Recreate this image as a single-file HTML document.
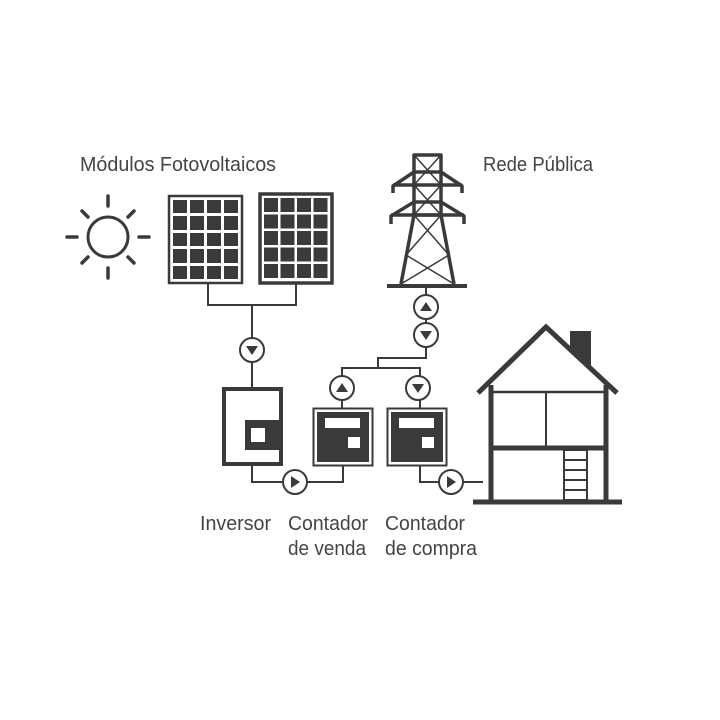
<!DOCTYPE html>
<html><head><meta charset="utf-8"><style>html,body{margin:0;padding:0;background:#fff}svg{display:block}</style></head><body>
<svg width="720" height="720" viewBox="0 0 720 720" xmlns="http://www.w3.org/2000/svg" font-family="'Liberation Sans Narrow','Liberation Sans',sans-serif" fill="#444">
<g stroke="#3a3a3a" fill="none">
<circle cx="108" cy="237" r="20" stroke-width="3"/>
<g stroke-width="3.5" stroke-linecap="round">
<line x1="108" y1="196" x2="108" y2="206"/><line x1="108" y1="268" x2="108" y2="278"/>
<line x1="67" y1="237" x2="77" y2="237"/><line x1="139" y1="237" x2="149" y2="237"/>
<line x1="82" y1="211" x2="88" y2="217"/><line x1="128" y1="257" x2="134" y2="263"/>
<line x1="134" y1="211" x2="128" y2="217"/><line x1="82" y1="263" x2="88" y2="257"/>
</g>
<rect x="169" y="196" width="73" height="87" stroke-width="2.5" fill="#fff"/>
<rect x="260" y="194" width="72" height="89" stroke-width="3.5" fill="#fff"/>
</g>
<g fill="#3a3a3a">
<rect x="173" y="200" width="14" height="13"/><rect x="190" y="200" width="14" height="13"/><rect x="207" y="200" width="14" height="13"/><rect x="224" y="200" width="14" height="13"/>
<rect x="173" y="216" width="14" height="14"/><rect x="190" y="216" width="14" height="14"/><rect x="207" y="216" width="14" height="14"/><rect x="224" y="216" width="14" height="14"/>
<rect x="173" y="233" width="14" height="13"/><rect x="190" y="233" width="14" height="13"/><rect x="207" y="233" width="14" height="13"/><rect x="224" y="233" width="14" height="13"/>
<rect x="173" y="249" width="14" height="14"/><rect x="190" y="249" width="14" height="14"/><rect x="207" y="249" width="14" height="14"/><rect x="224" y="249" width="14" height="14"/>
<rect x="173" y="266" width="14" height="13"/><rect x="190" y="266" width="14" height="13"/><rect x="207" y="266" width="14" height="13"/><rect x="224" y="266" width="14" height="13"/>

<rect x="264" y="198" width="14" height="14"/><rect x="280.5" y="198" width="14" height="14"/><rect x="297" y="198" width="14" height="14"/><rect x="313.5" y="198" width="14" height="14"/>
<rect x="264" y="214.5" width="14" height="14"/><rect x="280.5" y="214.5" width="14" height="14"/><rect x="297" y="214.5" width="14" height="14"/><rect x="313.5" y="214.5" width="14" height="14"/>
<rect x="264" y="231" width="14" height="14"/><rect x="280.5" y="231" width="14" height="14"/><rect x="297" y="231" width="14" height="14"/><rect x="313.5" y="231" width="14" height="14"/>
<rect x="264" y="247.5" width="14" height="14"/><rect x="280.5" y="247.5" width="14" height="14"/><rect x="297" y="247.5" width="14" height="14"/><rect x="313.5" y="247.5" width="14" height="14"/>
<rect x="264" y="264" width="14" height="14"/><rect x="280.5" y="264" width="14" height="14"/><rect x="297" y="264" width="14" height="14"/><rect x="313.5" y="264" width="14" height="14"/>
</g>
<g stroke="#3a3a3a" fill="none">
<g stroke-width="2">
<polyline points="208,283 208,305 296,305 296,283"/>
<line x1="252" y1="305" x2="252" y2="387"/>
<polyline points="252,466 252,482 343,482 343,466"/>
<polyline points="420,466 420,482 483,482"/>
<polyline points="342,408 342,368 420,368 420,408"/>
<polyline points="378,368 378,358 426,358 426,286"/>
</g>
<g stroke-width="3.5" stroke-linejoin="round">
<rect x="414" y="155" width="27" height="60"/>
<polyline points="414,215 401,284"/><polyline points="441,215 454,284"/>
<polyline points="393,193 393,186 414,172 441,172 462,186 462,193"/>
<polyline points="391,224 391,216 414,202 441,202 464,216 464,224"/>
<line x1="391" y1="215" x2="464" y2="215"/><line x1="393" y1="185" x2="462" y2="185"/>
</g>
<g stroke-width="1.5">
<line x1="414" y1="155" x2="441" y2="185"/><line x1="441" y1="155" x2="414" y2="185"/>
<line x1="414" y1="185" x2="441" y2="215"/><line x1="441" y1="185" x2="414" y2="215"/>
<line x1="414" y1="215" x2="449" y2="255"/><line x1="441" y1="215" x2="406" y2="255"/>
<line x1="406" y1="255" x2="454" y2="284"/><line x1="449" y1="255" x2="401" y2="284"/>
</g>
<line x1="387" y1="286" x2="467" y2="286" stroke-width="4"/>
<g stroke-width="5">
<polyline points="478,393 546,327 617,393" stroke-linejoin="miter"/>
<line x1="491" y1="385" x2="491" y2="502"/><line x1="606" y1="385" x2="606" y2="502"/>
<line x1="491" y1="448" x2="606" y2="448"/>
</g>
<line x1="491" y1="392" x2="606" y2="392" stroke-width="2.5"/>
<line x1="546" y1="392" x2="546" y2="448" stroke-width="2"/>
<line x1="473" y1="502" x2="622" y2="502" stroke-width="5"/>
<g stroke-width="2"><rect x="564" y="450" width="23" height="50"/>
<line x1="564" y1="460" x2="587" y2="460"/><line x1="564" y1="470" x2="587" y2="470"/><line x1="564" y1="480" x2="587" y2="480"/><line x1="564" y1="490" x2="587" y2="490"/></g>
</g>
<polygon points="570,331 591,331 591,366 570,346" fill="#3a3a3a"/>
<rect x="224" y="389" width="57" height="75" fill="#fff" stroke="#3a3a3a" stroke-width="4"/>
<rect x="245" y="420" width="38" height="30" fill="#3a3a3a"/>
<rect x="251" y="428" width="14" height="14" fill="#fff"/>
<g>
<rect x="313.5" y="408.5" width="59" height="57" fill="#fff" stroke="#3a3a3a" stroke-width="2"/>
<rect x="317" y="412" width="52" height="50" fill="#3a3a3a"/>
<rect x="325" y="418" width="35" height="10" fill="#fff"/>
<rect x="348" y="437" width="12" height="11" fill="#fff"/>
<rect x="387.5" y="408.5" width="59" height="57" fill="#fff" stroke="#3a3a3a" stroke-width="2"/>
<rect x="391" y="412" width="52" height="50" fill="#3a3a3a"/>
<rect x="399" y="418" width="35" height="10" fill="#fff"/>
<rect x="422" y="437" width="12" height="11" fill="#fff"/>
</g>
<g stroke="#3a3a3a" stroke-width="2" fill="#fff">
<circle cx="252" cy="350" r="12"/><circle cx="342" cy="388" r="12"/><circle cx="418" cy="388" r="12"/>
<circle cx="426" cy="307" r="12"/><circle cx="426" cy="335" r="12"/>
<circle cx="295" cy="482" r="12"/><circle cx="451" cy="482" r="12"/>
</g>
<g fill="#3a3a3a">
<polygon points="246,346 258,346 252,355"/>
<polygon points="412,384 424,384 418,393"/>
<polygon points="420,331 432,331 426,340"/>
<polygon points="336,392 348,392 342,383"/>
<polygon points="420,311 432,311 426,302"/>
<polygon points="291,476 291,488 300,482"/>
<polygon points="447,476 447,488 456,482"/>
</g>
<g fill="#444" font-size="20">
<text x="80" y="171" textLength="196" lengthAdjust="spacingAndGlyphs">Módulos Fotovoltaicos</text>
<text x="483" y="171" textLength="110" lengthAdjust="spacingAndGlyphs">Rede Pública</text>
<text x="200" y="530" textLength="71" lengthAdjust="spacingAndGlyphs">Inversor</text>
<text x="288" y="530" textLength="80" lengthAdjust="spacingAndGlyphs">Contador</text>
<text x="288" y="555" textLength="78" lengthAdjust="spacingAndGlyphs">de venda</text>
<text x="385" y="530" textLength="80" lengthAdjust="spacingAndGlyphs">Contador</text>
<text x="385" y="555" textLength="92" lengthAdjust="spacingAndGlyphs">de compra</text>
</g>
</svg>
</body></html>
